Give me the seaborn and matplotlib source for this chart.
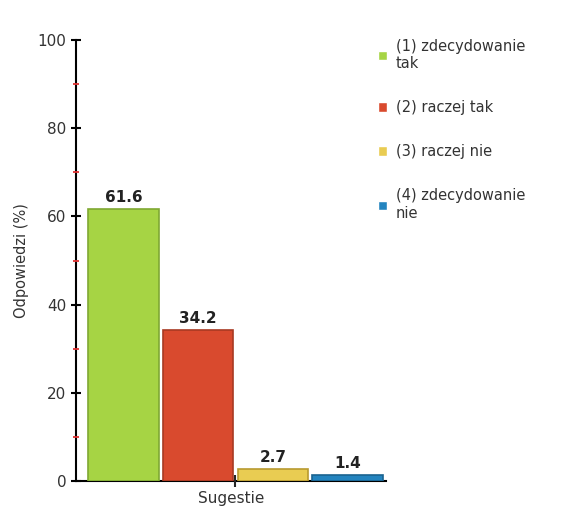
import pandas as pd
import matplotlib.pyplot as plt
plt.switch_backend('Agg')
import seaborn as sns
from matplotlib.ticker import MultipleLocator

# Data
category = ["Sugestie"]
answers = ["(1) zdecydowanie\ntak", "(2) raczej tak", "(3) raczej nie", "(4) zdecydowanie\nnie"]
values = [61.6, 34.2, 2.7, 1.4]
colors = ["#a6d444", "#d94a2e", "#e9cc52", "#2384bf"]
edges = ["#7fa832", "#a83a22", "#b89a30", "#1a6390"]

df = pd.DataFrame({"cat": category * len(answers), "answer": answers, "value": values})

sns.set_style("white")
plt.rcParams['font.family'] = ['DejaVu Sans']

fig = plt.figure(figsize=(5.87, 5.08), dpi=100)
ax = fig.add_axes([0.1295, 0.0531, 0.528, 0.8682])

sns.barplot(data=df, x="cat", y="value", hue="answer", palette=colors,
            saturation=1, gap=0.06, width=0.8, ax=ax, legend=True)

for cont, ec in zip(ax.containers, edges):
    for bar in cont:
        bar.set_edgecolor(ec)
        bar.set_linewidth(1.2)
    ax.bar_label(cont, fmt="%.1f", padding=3, fontsize=11, fontweight="bold", color="#222222")

ax.set_ylim(0, 100)
ax.set_xlim(-0.427, 0.403)
ax.yaxis.set_major_locator(MultipleLocator(20))
ax.yaxis.set_minor_locator(MultipleLocator(10))
ax.tick_params(axis="y", which="major", left=True, direction="inout", length=7, width=1.5,
               labelsize=11, color="black", labelcolor="#333333")
ax.tick_params(axis="y", which="minor", left=True, direction="inout", length=5, width=1.3, color="#e03030")
ax.tick_params(axis="x", which="major", bottom=True, direction="inout", length=8, width=1.5, pad=0)
ax.set_xticklabels([])
ax.set_xlabel("Sugestie", fontsize=11, color="#333333", labelpad=3)
ax.set_ylabel("Odpowiedzi (%)", fontsize=10.5, color="#333333", labelpad=6)

sns.despine(ax=ax)
for s in ["left", "bottom"]:
    ax.spines[s].set_color("black")
    ax.spines[s].set_linewidth(1.5)
    ax.spines[s].set_zorder(0.5)

leg = ax.get_legend()
handles = leg.legend_handles
leg.remove()
fig.legend(handles, answers, loc="upper left", bbox_to_anchor=(0.622, 0.95),
           frameon=False, fontsize=10.5, handlelength=0.6, handleheight=0.6,
           labelspacing=2.0, handletextpad=0.6, labelcolor="#333333")

fig.savefig("out.png", dpi=100)
